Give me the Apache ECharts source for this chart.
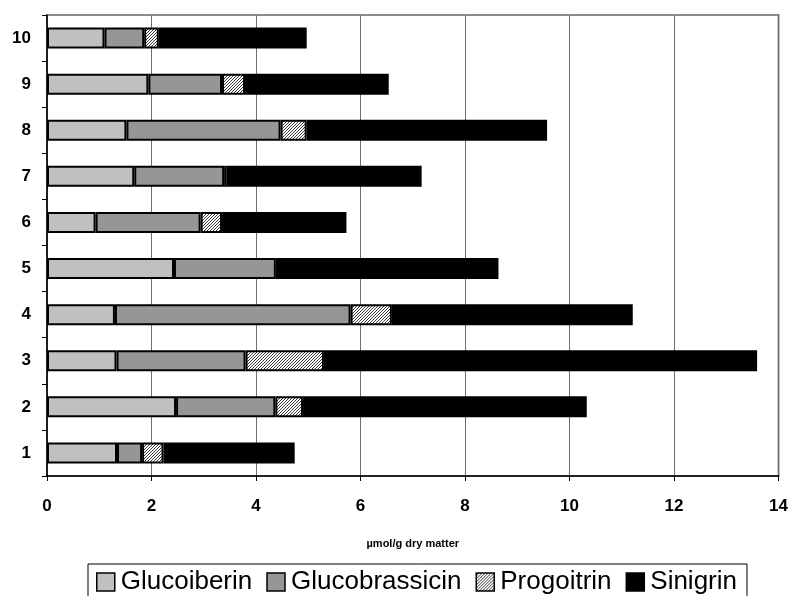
<!DOCTYPE html>
<html>
<head>
<meta charset="utf-8">
<script src="https://cdn.jsdelivr.net/npm/echarts@6/dist/echarts.min.js"></script>
<style>
  html, body { margin: 0; padding: 0; background: #fff; }
  #chart { width: 791px; height: 596px; }
</style>
</head>
<body>
<div id="chart"></div>
<script>
var categories = ['1', '2', '3', '4', '5', '6', '7', '8', '9', '10'];
var seriesNames = ['Glucoiberin', 'Glucobrassicin', 'Progoitrin', 'Sinigrin'];
var glucoiberin    = [1.34, 2.47, 1.33, 1.30, 2.43, 0.93, 1.67, 1.52, 1.94, 1.10];
var glucobrassicin = [0.48, 1.90, 2.47, 4.51, 1.95, 2.01, 1.72, 2.95, 1.41, 0.76];
var progoitrin     = [0.41, 0.53, 1.50, 0.79, 0.06, 0.41, 0.05, 0.50, 0.44, 0.28];
var sinigrin       = [2.51, 5.43, 8.29, 4.61, 4.20, 2.38, 3.73, 4.60, 2.75, 2.83];
var xTicks = { min: 0, max: 14, interval: 2 };
var axisTitle = 'µmol/g dry matter';

function hatch() {
  var c = document.createElement('canvas');
  c.width = 3; c.height = 3;
  var g = c.getContext('2d');
  g.fillStyle = '#ffffff';
  g.fillRect(0, 0, 3, 3);
  g.fillStyle = '#3a3a3a';
  g.fillRect(2, 0, 1, 1);
  g.fillRect(1, 1, 1, 1);
  g.fillRect(0, 2, 1, 1);
  return { image: c, repeat: 'repeat' };
}

var fills = ['#c0c0c0', '#969696', hatch(), '#000000'];
var values = [glucoiberin, glucobrassicin, progoitrin, sinigrin];

var chart = echarts.init(document.getElementById('chart'), null, { renderer: 'canvas' });
chart.setOption({
  animation: false,
  backgroundColor: '#ffffff',
  grid: {
    left: 47, right: 12, top: 15, bottom: 120,
    show: true, borderColor: '#8c8c8c', borderWidth: 2, backgroundColor: 'transparent'
  },
  legend: {
    left: 88, top: 564,
    padding: [5, 10, 12, 8],
    borderColor: '#000', borderWidth: 1,
    itemGap: 14, itemWidth: 18, itemHeight: 18,
    textStyle: { fontFamily: 'Liberation Sans', fontSize: 26, color: '#000', padding: [0, 0, 0, 1] },
    icon: 'rect',
    itemStyle: { borderColor: '#000', borderWidth: 1.5 },
    data: seriesNames
  },
  xAxis: {
    type: 'value',
    min: xTicks.min, max: xTicks.max, interval: xTicks.interval,
    name: axisTitle,
    nameLocation: 'middle',
    nameGap: 62,
    nameTextStyle: { fontFamily: 'Liberation Sans', fontWeight: 'bold', fontSize: 11, color: '#000' },
    axisLine: { show: true, lineStyle: { color: '#000', width: 1.5 } },
    axisTick: { show: true, length: 5, lineStyle: { color: '#000' } },
    axisLabel: { fontFamily: 'Liberation Sans', fontWeight: 'bold', fontSize: 17, color: '#000', margin: 22 },
    splitLine: { show: true, lineStyle: { color: '#6e6e6e', width: 1 } }
  },
  yAxis: {
    type: 'category',
    data: categories,
    axisLine: { show: true, lineStyle: { color: '#000', width: 1.5 } },
    axisTick: { show: true, length: 5, alignWithLabel: false, lineStyle: { color: '#000' } },
    axisLabel: { fontFamily: 'Liberation Sans', fontWeight: 'bold', fontSize: 17, color: '#000', margin: 16 },
    splitLine: { show: false }
  },
  series: seriesNames.map(function (name, i) {
    return {
      name: name,
      type: 'bar',
      stack: 'total',
      barWidth: 21,
      data: values[i],
      itemStyle: { color: fills[i], borderColor: '#000', borderWidth: 2 },
      emphasis: { disabled: true }
    };
  })
});
</script>
</body>
</html>
